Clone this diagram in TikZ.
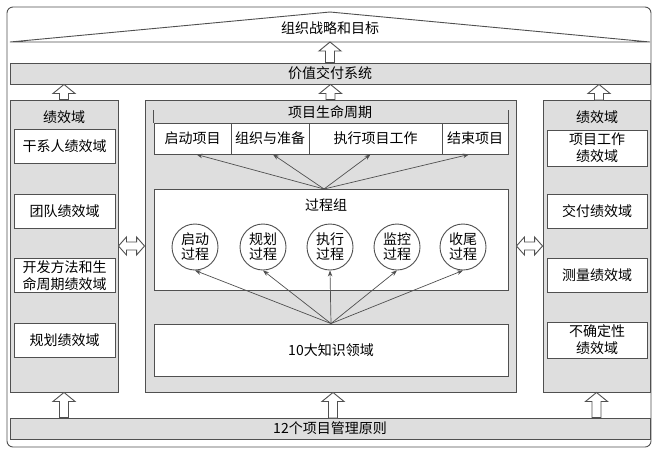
\documentclass[tikz,border=0pt]{standalone}
\usepackage{fontspec}
\setmainfont{Noto Sans CJK SC}
\usetikzlibrary{arrows.meta}
\definecolor{edge}{HTML}{505050}
\definecolor{shade}{HTML}{DEDEDE}

\begin{document}
\begin{tikzpicture}[x=1pt,y=-1pt,
    every node/.style={font=\fontsize{14}{17}\selectfont, inner sep=0pt, align=center},
    panelbox/.style={draw=edge, fill=shade, line width=0.9pt, minimum height=292pt},
    barbox/.style={draw=edge, fill=shade, line width=0.9pt, minimum width=640pt, minimum height=21pt},
    areabox/.style={draw=edge, fill=white, line width=0.9pt, minimum height=34pt},
    phasebox/.style={draw=edge, fill=white, line width=0.9pt, minimum height=31pt},
    procnode/.style={circle, draw=edge, fill=white, line width=0.9pt, minimum size=46pt, font=\fontsize{14}{15}\selectfont},
    linkarrow/.style={draw=edge, line width=0.7pt, -{Stealth[length=6pt,width=4.5pt]}},
    hollowarrow/.style={draw=edge, fill=white, line width=0.9pt,
        to path={([xshift=-4.5pt]\tikztostart) -- ([xshift=-4.5pt,yshift=-9pt]\tikztotarget)
            -- ([xshift=-11pt,yshift=-9pt]\tikztotarget) -- (\tikztotarget)
            -- ([xshift=11pt,yshift=-9pt]\tikztotarget) -- ([xshift=4.5pt,yshift=-9pt]\tikztotarget)
            -- ([xshift=4.5pt]\tikztostart) -- cycle}},
    twowayarrow/.style={draw=edge, fill=white, line width=0.9pt,
        to path={(\tikztostart) -- ([xshift=8pt,yshift=9pt]\tikztostart) -- ([xshift=8pt,yshift=4pt]\tikztostart)
            -- ([xshift=-8pt,yshift=4pt]\tikztotarget) -- ([xshift=-8pt,yshift=9pt]\tikztotarget) -- (\tikztotarget)
            -- ([xshift=-8pt,yshift=-9pt]\tikztotarget) -- ([xshift=-8pt,yshift=-4pt]\tikztotarget)
            -- ([xshift=8pt,yshift=-4pt]\tikztostart) -- ([xshift=8pt,yshift=-9pt]\tikztostart) -- cycle}}]
    \useasboundingbox (0,0) rectangle (658,451);
    \draw[edge, line width=0.9pt, rounded corners=6pt] (7,7) rectangle (651,447);

    \draw[edge, fill=white, line width=0.9pt] (10,42) -- (330,12) -- (650,42) -- cycle;
    \node (goal) at (330,28) {组织战略和目标};
    \coordinate (roofbase) at (330,42);

    \node[barbox] (vds) at (330,73.5) {价值交付系统};
    \node[barbox] (prin) at (330,428.5) {12个项目管理原则};

    \node[panelbox, minimum width=108pt] (lpanel) at (64,246) {};
    \node[panelbox, minimum width=371pt] (cpanel) at (330.5,246) {};
    \node[panelbox, minimum width=107pt] (rpanel) at (596.5,246) {};

    \node (ltitle) at (64,117) {绩效域};
    \node[areabox, minimum width=101pt] (stake) at (64.5,146.5) {干系人绩效域};
    \node[areabox, minimum width=101pt] (team) at (64.5,211) {团队绩效域};
    \node[areabox, minimum width=101pt] (dev) at (64.5,275.5) {开发方法和生\\命周期绩效域};
    \node[areabox, minimum width=101pt] (plan) at (64.5,340) {规划绩效域};

    \node (rtitle) at (597,117) {绩效域};
    \node[areabox, minimum width=100pt, minimum height=36pt] (work) at (597,148) {项目工作\\绩效域};
    \node[areabox, minimum width=100pt] (deliv) at (597,211) {交付绩效域};
    \node[areabox, minimum width=100pt] (meas) at (597,275.5) {测量绩效域};
    \node[areabox, minimum width=100pt, minimum height=36pt] (unc) at (597,340) {不确定性\\绩效域};

    \node (lc) at (330,112) {项目生命周期};
    \node[phasebox, minimum width=77pt] (p1) at (192.5,138.5) {启动项目};
    \node[phasebox, minimum width=78pt] (p2) at (270,138.5) {组织与准备};
    \node[phasebox, minimum width=133pt] (p3) at (375.5,138.5) {执行项目工作};
    \node[phasebox, minimum width=66pt] (p4) at (475,138.5) {结束项目};
    \draw[edge, line width=0.9pt] (p1.north west) -- ++(0,-13);
    \draw[edge, line width=0.9pt] (p4.north east) -- ++(0,-13);

    \node[draw=edge, fill=white, line width=0.9pt, minimum width=354pt, minimum height=101pt] (pg) at (331,239.5) {};
    \node (pgtitle) at (326,205) {过程组};
    \node[procnode] (c1) at (195,247) {启动\\过程};
    \node[procnode] (c2) at (263,247) {规划\\过程};
    \node[procnode] (c3) at (330,247) {执行\\过程};
    \node[procnode] (c4) at (397,247) {监控\\过程};
    \node[procnode] (c5) at (463,247) {收尾\\过程};

    \node[draw=edge, fill=white, line width=0.9pt, minimum width=354pt, minimum height=52pt] (ka) at (331,350) {10大知识领域};

    \coordinate (pgtop) at (324,189);
    \draw[linkarrow] (pgtop) -- ([xshift=4pt]p1.south);
    \draw[linkarrow] (pgtop) -- ([xshift=3pt]p2.south);
    \draw[linkarrow] (pgtop) -- ([xshift=-5pt]p3.south);
    \draw[linkarrow] (pgtop) -- ([xshift=-6pt]p4.south);

    \draw[linkarrow] (ka.north) -- (c1.south);
    \draw[linkarrow] (ka.north) -- (c2.south);
    \draw[linkarrow] (ka.north) -- (c3.south);
    \draw[linkarrow] (ka.north) -- (c4.south);
    \draw[linkarrow] (ka.north) -- (c5.south);

    \coordinate (lup) at (lpanel.north |- vds.south);
    \coordinate (cup) at (cpanel.north |- vds.south);
    \coordinate (rup) at (599,100);
    \coordinate (rupend) at (rup |- vds.south);
    \draw[hollowarrow] (vds.north) to (roofbase);
    \draw[hollowarrow] (lpanel.north) to (lup);
    \draw[hollowarrow] (cpanel.north) to (cup);
    \draw[hollowarrow] (rup) to (rupend);

    \coordinate (lbase) at (lpanel.south |- prin.north);
    \coordinate (cbase) at (333,418);
    \coordinate (cbaseend) at (cbase |- cpanel.south);
    \coordinate (rbase) at (rpanel.south |- prin.north);
    \draw[hollowarrow] (lbase) to (lpanel.south);
    \draw[hollowarrow] (cbase) to (cbaseend);
    \draw[hollowarrow] (rbase) to (rpanel.south);

    \draw[twowayarrow] (lpanel.east) to (cpanel.west);
    \draw[twowayarrow] (cpanel.east) to (rpanel.west);
\end{tikzpicture}
\end{document}
